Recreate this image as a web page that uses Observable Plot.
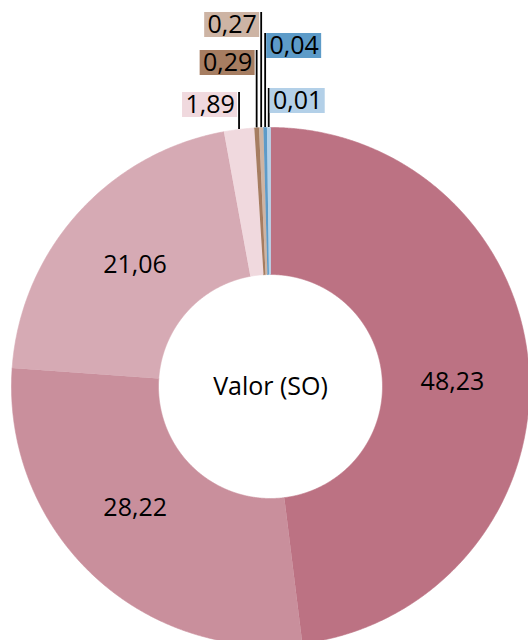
<!DOCTYPE html>
<html>
<head>
<meta charset="utf-8">
<script src="https://cdn.jsdelivr.net/npm/d3@7"></script>
<script src="https://cdn.jsdelivr.net/npm/@observablehq/plot@0.6"></script>
<style>
  html, body { margin: 0; padding: 0; background: #fff; overflow: hidden; }
  #chart svg { display: block; overflow: hidden; }
</style>
</head>
<body>
<div id="chart"></div>
<script>
// ---- data ----
const values = [48.23, 28.22, 21.06, 1.89, 0.29, 0.27, 0.04, 0.01];
const valueLabels = ["48,23", "28,22", "21,06", "1,89", "0,29", "0,27", "0,04", "0,01"];
const sliceColors = ["#bc7283", "#c98f9c", "#d6aab4", "#f0d9de", "#a67d61", "#cdb4a4", "#5d9bc8", "#b3d0e8"];
const centerLabel = "Valor (SO)";

// ---- layout ----
const W = 528, H = 640;
const cx = 270, cy = 386, R = 259, r = 112, labelR = 182;
const minShare = 0.22;           // minimum visible slice share
const font = "'Open Sans', 'Noto Sans', sans-serif";
const fontSize = 25;
const labelAngleNudge = [2.1, 4.5, 0];   // degrees, inside labels
// callouts for the small slices (index -> side, lift of box top above the rim)
const callouts = [
  {i: 3, side: -1, lift: 35},
  {i: 4, side: -1, lift: 77},
  {i: 5, side: -1, lift: 115},
  {i: 6, side: 1, lift: 94},
  {i: 7, side: 1, lift: 39}
];
const boxW = 55, boxH = 25;

const arcs = d3.pie().sort(null).value(v => Math.max(v, minShare))(values);
const px = (a, rad) => cx + rad * Math.sin(a);
const py = (a, rad) => cy - rad * Math.cos(a);

// slice outlines
const pts = [];
arcs.forEach((a, k) => {
  const n = Math.max(2, Math.ceil((a.endAngle - a.startAngle) / (Math.PI / 720)));
  for (let j = 0; j <= n; j++) {
    const t = a.startAngle + (a.endAngle - a.startAngle) * j / n;
    pts.push({k, x: px(t, R), y: py(t, R), c: sliceColors[k]});
  }
  for (let j = n; j >= 0; j--) {
    const t = a.startAngle + (a.endAngle - a.startAngle) * j / n;
    pts.push({k, x: px(t, r), y: py(t, r), c: sliceColors[k]});
  }
});

// inside labels
const inside = arcs.slice(0, 3).map((a, k) => {
  const m = (a.startAngle + a.endAngle) / 2 + labelAngleNudge[k] * Math.PI / 180;
  return {x: px(m, labelR), y: py(m, labelR), t: valueLabels[k]};
});

// callouts
const rimTop = cy - R;
const co = callouts.map(({i, side, lift}) => {
  const a = arcs[i];
  const m = (a.startAngle + a.endAngle) / 2;
  const lx = px(m, R);
  const top = rimTop - lift;
  const x1 = side < 0 ? lx - 1.5 - boxW : lx + 1.5;
  const x2 = x1 + boxW;
  return {lx, y1: top, y2: py(m, R), bx1: x1, bx2: x2, by1: top, by2: top + boxH,
          tx: (x1 + x2) / 2, ty: top + boxH / 2, c: sliceColors[i], t: valueLabels[i]};
});

const chart = Plot.plot({
  width: W, height: H,
  margin: 0,
  x: {domain: [0, W], range: [0, W], axis: null},
  y: {domain: [0, H], range: [0, H], axis: null},
  color: {type: "identity"},
  style: {fontFamily: font, background: "#fff", overflow: "hidden"},
  marks: [
    Plot.line(pts, {x: "x", y: "y", z: "k", fill: "c", stroke: "c", strokeWidth: 0.6, curve: "linear"}),
    Plot.text(inside, {x: "x", y: "y", text: "t", fontSize, fill: "#000", fontFamily: font}),
    Plot.text([centerLabel], {x: cx, y: cy, text: d => d, fontSize, fill: "#000", fontFamily: font}),
    Plot.ruleX(co, {x: "lx", y1: "y1", y2: "y2", stroke: "#000", strokeWidth: 1.8}),
    Plot.rect(co, {x1: "bx1", x2: "bx2", y1: "by1", y2: "by2", fill: "c"}),
    Plot.text(co, {x: "tx", y: "ty", text: "t", fontSize, fill: "#000", fontFamily: font})
  ]
});
document.getElementById("chart").appendChild(chart);
</script>
</body>
</html>
